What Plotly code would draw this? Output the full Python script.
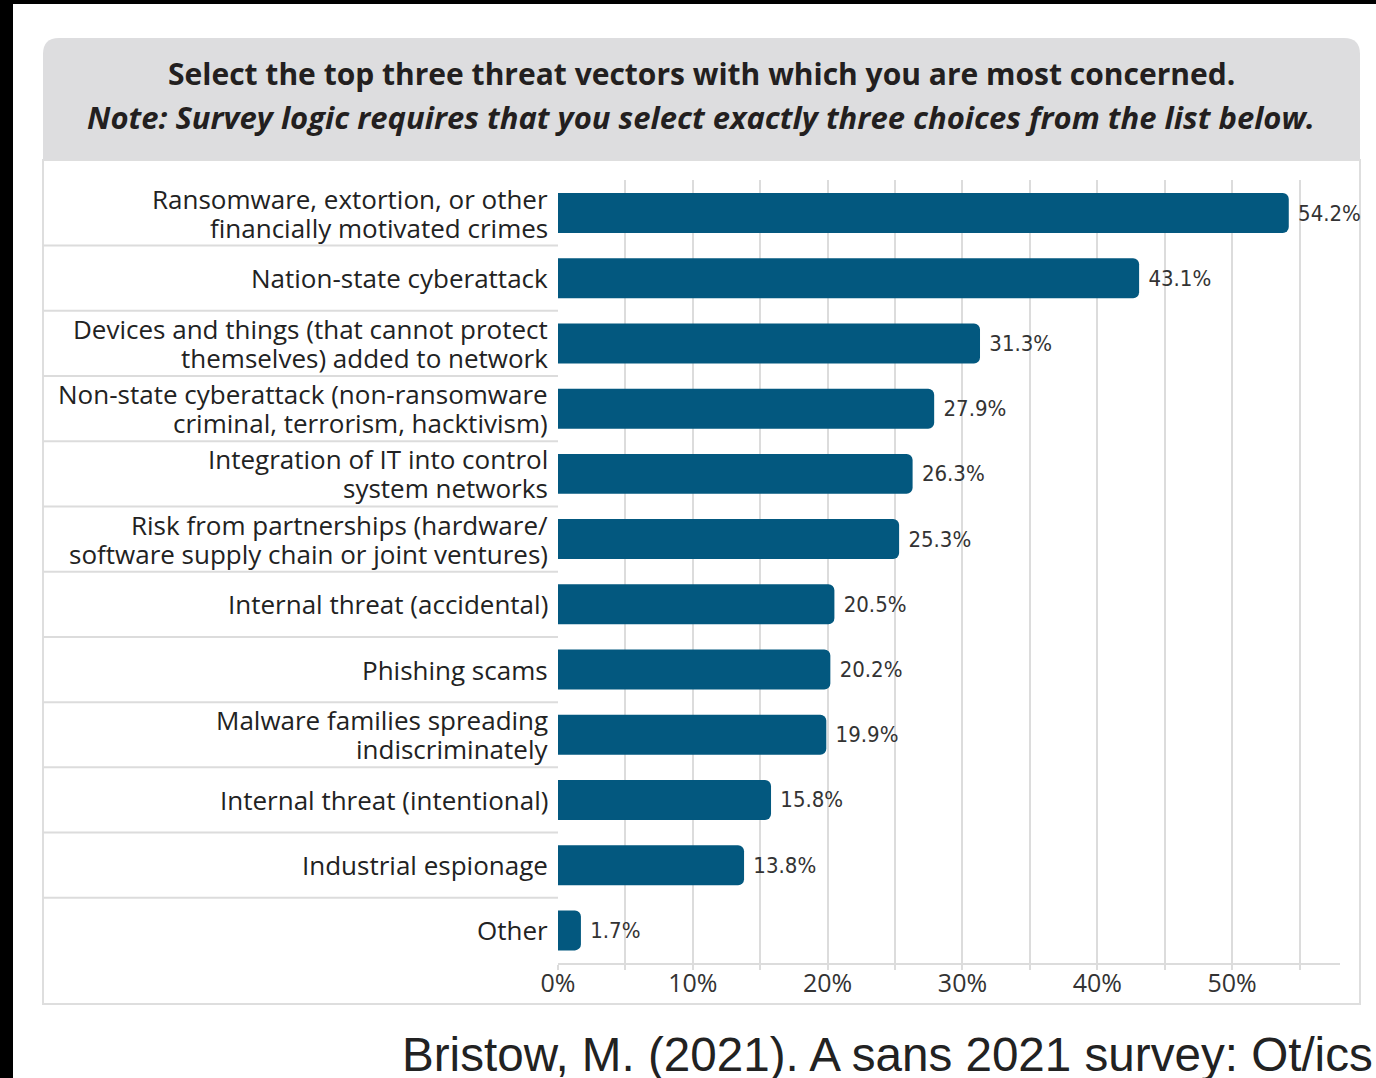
import plotly.graph_objects as go

# ---------------- data ----------------
categories = [
    "Ransomware, extortion, or other<br>financially motivated crimes",
    "Nation-state cyberattack",
    "Devices and things (that cannot protect<br>themselves) added to network",
    "Non-state cyberattack (non-ransomware<br>criminal, terrorism, hacktivism)",
    "Integration of IT into control<br>system networks",
    "Risk from partnerships (hardware/<br>software supply chain or joint ventures)",
    "Internal threat (accidental)",
    "Phishing scams",
    "Malware families spreading<br>indiscriminately",
    "Internal threat (intentional)",
    "Industrial espionage",
    "Other",
]
values = [54.2, 43.1, 31.3, 27.9, 26.3, 25.3, 20.5, 20.2, 19.9, 15.8, 13.8, 1.7]
tick_vals = [0, 10, 20, 30, 40, 50]
tick_labels = ["0%", "10%", "20%", "30%", "40%", "50%"]

title_line1 = "Select the top three threat vectors with which you are most concerned."
title_line2 = "Note: Survey logic requires that you select exactly three choices from the list below."
citation = "Bristow, M. (2021). A sans 2021 survey: Ot/ics"

# ---------------- geometry helpers ----------------
W, H = 1376, 1078
def fx(px):
    return px / W
def fy(py):
    return 1 - py / H

BAR_COLOR = "#03587f"
GRID = "#dcdcdc"
LABEL_FONT = "Open Sans, Noto Sans, sans-serif"
NARROW_FONT = "Liberation Sans Narrow, DejaVu Sans Condensed, sans-serif"
LINE_PITCH = 29

ids = list(range(len(categories)))

fig = go.Figure()
fig.add_trace(go.Bar(
    x=values,
    y=ids,
    orientation="h",
    marker=dict(color=BAR_COLOR, line=dict(width=0), cornerradius=6),
    text=[f" {v:.1f}%" for v in values],
    textposition="outside",
    textfont=dict(family=NARROW_FONT, size=22, color="#333333"),
    constraintext="none",
    cliponaxis=False,
    hoverinfo="skip",
))

shapes = []
# black screenshot edges
shapes.append(dict(type="rect", xref="paper", yref="paper",
                   x0=fx(0), x1=fx(W), y0=fy(0), y1=fy(4),
                   fillcolor="black", line=dict(width=0), layer="above"))
shapes.append(dict(type="rect", xref="paper", yref="paper",
                   x0=fx(0), x1=fx(13), y0=fy(0), y1=fy(H),
                   fillcolor="black", line=dict(width=0), layer="above"))
# white chart box with light border
shapes.append(dict(type="rect", xref="paper", yref="paper",
                   x0=fx(43), x1=fx(1360), y0=fy(160), y1=fy(1004),
                   fillcolor="white", line=dict(color="#dedede", width=2), layer="below"))
# header with rounded top corners
r = 16
L, R, T, B = 43, 1360, 38, 160
path = (f"M {fx(L)} {fy(B)} L {fx(L)} {fy(T + r)} Q {fx(L)} {fy(T)} {fx(L + r)} {fy(T)} "
        f"L {fx(R - r)} {fy(T)} Q {fx(R)} {fy(T)} {fx(R)} {fy(T + r)} L {fx(R)} {fy(B)} Z")
shapes.append(dict(type="path", xref="paper", yref="paper", path=path,
                   fillcolor="#dddddf", line=dict(width=0), layer="below"))
# row separators in label panel
for i in range(len(categories) - 1):
    shapes.append(dict(type="line", xref="paper", yref="y",
                       x0=fx(43), x1=fx(558), y0=i + 0.5, y1=i + 0.5,
                       line=dict(color=GRID, width=2), layer="below"))

annotations = [
    dict(text=f"<b>{title_line1}</b>", x=fx(701), y=fy(74), xref="paper", yref="paper",
         xanchor="center", yanchor="middle", showarrow=False,
         font=dict(family=LABEL_FONT, size=30, color="#231f20")),
    dict(text=f"<b><i>{title_line2}</i></b>", x=fx(701), y=fy(117), xref="paper", yref="paper",
         xanchor="center", yanchor="middle", showarrow=False,
         font=dict(family=LABEL_FONT, size=31, color="#231f20")),
    dict(text=citation, x=fx(400), y=fy(1054), xref="paper", yref="paper",
         xanchor="left", yanchor="middle", showarrow=False,
         font=dict(family="Liberation Sans, Arial, sans-serif", size=47.6, color="#222222")),
]

# category labels, one annotation per line for tight line spacing
for i, cat in enumerate(categories):
    lines = cat.split("<br>")
    n = len(lines)
    for k, ln in enumerate(lines):
        shift = ((n - 1) / 2 - k) * LINE_PITCH
        annotations.append(dict(
            text=ln, x=fx(550), y=i, xref="paper", yref="y",
            xanchor="right", yanchor="middle", yshift=shift, showarrow=False,
            font=dict(family=LABEL_FONT, size=26, color="#222222")))

fig.update_layout(
    width=W, height=H,
    margin=dict(l=0, r=0, t=0, b=0),
    paper_bgcolor="white",
    plot_bgcolor="rgba(0,0,0,0)",
    showlegend=False,
    bargap=0.387,
    shapes=shapes,
    annotations=annotations,
    xaxis=dict(
        domain=[fx(558), fx(1340)],
        range=[0, 58],
        tickvals=tick_vals,
        ticktext=tick_labels,
        tickfont=dict(family=LABEL_FONT, size=25, color="#333333"),
        showgrid=True, gridcolor=GRID, gridwidth=2,
        showline=True, linecolor=GRID, linewidth=2,
        ticks="outside", ticklen=5, tickcolor=GRID, tickwidth=2,
        ticklabelstandoff=-8,
        minor=dict(dtick=5, showgrid=True, gridcolor=GRID, gridwidth=2,
                   ticks="outside", ticklen=5, tickcolor=GRID, tickwidth=2),
        zeroline=False,
        automargin=False,
        fixedrange=True,
    ),
    yaxis=dict(
        domain=[fy(963), fy(180.4)],
        range=[len(categories) - 0.5, -0.5],
        tickvals=ids,
        showticklabels=False,
        ticks="", showgrid=False, zeroline=False, showline=False,
        automargin=False,
        fixedrange=True,
    ),
)

fig.write_html("out.html", config={"displayModeBar": False},
               post_script="document.body.style.margin='0';")
